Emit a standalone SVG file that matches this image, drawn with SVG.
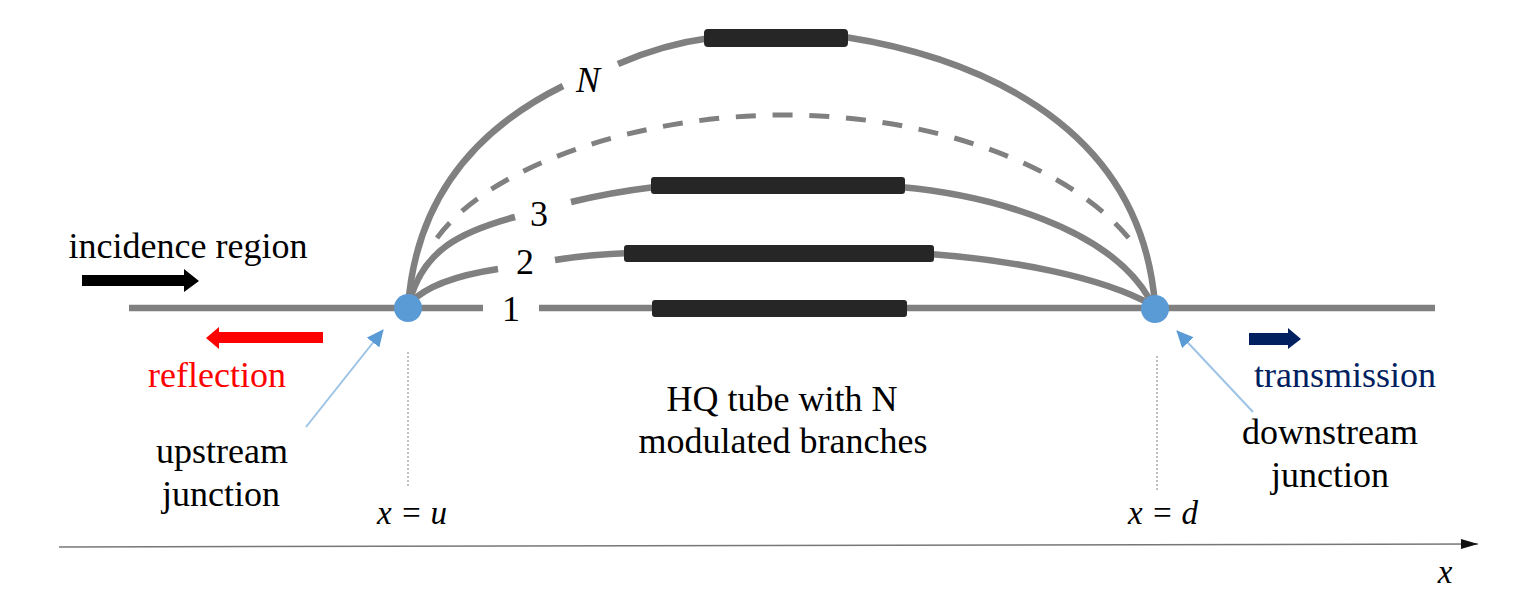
<svg xmlns="http://www.w3.org/2000/svg" width="1532" height="600" viewBox="0 0 1532 600">
<style>
.w{fill:none;stroke:#808080;stroke-width:6.5}
.b{fill:#262626;stroke:none}
.t{font-family:"Liberation Serif",serif;font-size:36px;fill:#000;text-anchor:middle}
.i{font-style:italic}
.n{font-size:33px}
.j{fill:#5b9bd5}
.l{stroke:#9dc3e6;stroke-width:2;fill:none}
.d{stroke:#aaa;stroke-width:1.5;stroke-dasharray:2 2;fill:none}
</style>
<defs>
<marker id="ah" markerUnits="userSpaceOnUse" markerWidth="18" markerHeight="16" refX="16" refY="8" orient="auto"><path d="M0 0L17 8L0 16z" fill="#5b9bd5"/></marker>
<marker id="ax" markerUnits="userSpaceOnUse" markerWidth="18" markerHeight="12" refX="17" refY="6" orient="auto"><path d="M0 1L17 6L0 11z" fill="#111"/></marker>
</defs>
<rect width="1532" height="600" fill="#fff"/>
<g id="connectors">
<path class="w" d="M129 308H483M539 308H1435"/>
<path class="w" d="M408 308C415 205 470 132 563 86M618 64C650 50 680 42 710 38M845 37C960 55 1140 115 1155 305"/>
<path class="w" style="stroke-width:5" stroke-dasharray="20 16.75" d="M437 238C490 165 640 115 785 115C930 115 1075 165 1135 246"/>
<path class="w" d="M410 300C424 250 460 232 515 217M571 202C600 195 630 190 655 187M900 187C990 195 1110 228 1150 300"/>
<path class="w" d="M410 303C428 284 465 274 498 269M555 260C580 256 605 254 630 253M930 254C1010 260 1100 276 1152 305"/>
<path class="l" d="M306 427L383 330" marker-end="url(#ah)"/>
<path class="l" d="M1253 412L1177 331" marker-end="url(#ah)"/>
<path class="d" d="M408 352V488M1157 356V492"/>
<path d="M59 547L1478 544" stroke="#777" stroke-width="1.5" fill="none" marker-end="url(#ax)"/>
</g>
<g id="branch-n"><rect class="b" x="704" y="29" width="144" height="18" rx="4"/><text class="t i" x="588" y="92">N</text></g>
<g id="branch-3"><rect class="b" x="651" y="177" width="254" height="17" rx="3"/><text class="t" x="539" y="226">3</text></g>
<g id="branch-2"><rect class="b" x="624" y="245" width="310" height="17" rx="3"/><text class="t" x="525" y="274">2</text></g>
<g id="branch-1"><rect class="b" x="652" y="300" width="255" height="17" rx="3"/><text class="t" x="511" y="321">1</text></g>
<g id="upstream-node"><circle class="j" cx="408" cy="308" r="14"/></g>
<g id="downstream-node"><circle class="j" cx="1155" cy="309" r="14"/></g>
<g id="incidence">
<text class="t" x="188" y="258">incidence region</text>
<path d="M82 275H184V269L199 281L184 292V286H82z" fill="#000"/>
</g>
<g id="reflection">
<path d="M323 332H219V327L206 338L219 349V343H323z" fill="#f00"/>
<text class="t" x="217" y="387" style="fill:#f00">reflection</text>
</g>
<g id="transmission">
<path d="M1249 333H1288V328L1301 339L1288 349V345H1249z" fill="#002060"/>
<text class="t" x="1345" y="387" style="fill:#002060">transmission</text>
</g>
<g id="upstream-label"><text class="t" x="222" y="463">upstream</text><text class="t" x="221" y="506">junction</text></g>
<g id="downstream-label"><text class="t" x="1330" y="444">downstream</text><text class="t" x="1330" y="487">junction</text></g>
<g id="center-label"><text class="t" x="782" y="411">HQ tube with N</text><text class="t" x="783" y="453">modulated branches</text></g>
<g id="positions">
<text class="t i n" x="412" y="524">x = u</text>
<text class="t i n" x="1163" y="524">x = d</text>
<text class="t i n" x="1445" y="583">x</text>
</g>
</svg>
